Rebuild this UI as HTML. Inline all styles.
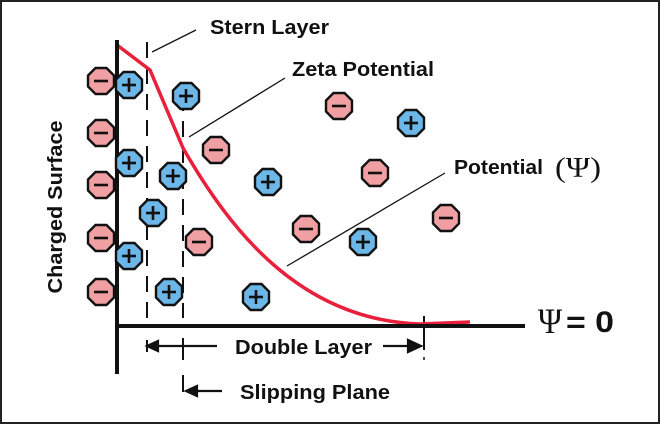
<!DOCTYPE html>
<html><head><style>body{margin:0;background:#fff}svg{display:block}text{font-family:"Liberation Sans",sans-serif;font-weight:bold;fill:#111}</style></head><body>
<svg width="660" height="424" viewBox="0 0 660 424">
<defs>
<polygon id="oct" points="-5.5,-13 5.5,-13 13,-5.5 13,5.5 5.5,13 -5.5,13 -13,5.5 -13,-5.5" stroke="#111" stroke-width="2.4"/>
<g id="neg"><use href="#oct" fill="#f0a0a3"/><line x1="-7" y1="0" x2="7" y2="0" stroke="#111" stroke-width="2.6"/></g>
<g id="pos"><use href="#oct" fill="#6cb6e8"/><line x1="-7" y1="0" x2="7" y2="0" stroke="#111" stroke-width="2.6"/><line x1="0" y1="-7" x2="0" y2="7" stroke="#111" stroke-width="2.6"/></g>
</defs>
<rect x="1" y="1" width="658" height="422" fill="#fff" stroke="#222" stroke-width="2"/>
<g stroke="#111" stroke-width="2" stroke-dasharray="16,10" fill="none">
<line x1="147" y1="42" x2="147" y2="318"/>
<line x1="183" y1="95" x2="183" y2="318"/>
</g>
<line x1="147" y1="340" x2="147" y2="352" stroke="#111" stroke-width="2"/>
<line x1="183" y1="338" x2="183" y2="360" stroke="#111" stroke-width="2"/>
<line x1="183" y1="375" x2="183" y2="392" stroke="#111" stroke-width="2"/>
<line x1="424" y1="316" x2="424" y2="350" stroke="#111" stroke-width="2"/>
<line x1="424" y1="357" x2="424" y2="360" stroke="#111" stroke-width="1.5"/>
<path d="M117,45 L150,70 L183,148 C230,230 300,320 420,324 L470,322" fill="none" stroke="#e8203c" stroke-width="3.5"/>
<line x1="117" y1="40" x2="117" y2="374" stroke="#111" stroke-width="4"/>
<line x1="117" y1="326" x2="525" y2="326" stroke="#111" stroke-width="4"/>
<g stroke="#111" stroke-width="1.3">
<line x1="152" y1="52" x2="196" y2="30"/>
<line x1="189" y1="137" x2="285" y2="78"/>
<line x1="287" y1="266" x2="445" y2="173"/>
</g>
<use href="#neg" x="101" y="81"/><use href="#neg" x="101" y="133"/><use href="#neg" x="101" y="185"/><use href="#neg" x="101" y="238"/><use href="#neg" x="101" y="292"/>
<use href="#neg" x="339" y="106"/><use href="#neg" x="216" y="150"/><use href="#neg" x="375" y="173"/><use href="#neg" x="306" y="229"/><use href="#neg" x="199" y="242"/><use href="#neg" x="446" y="218"/>
<use href="#pos" x="129" y="85"/><use href="#pos" x="186" y="96"/><use href="#pos" x="411" y="123"/><use href="#pos" x="129" y="163"/><use href="#pos" x="173" y="176"/><use href="#pos" x="268" y="182"/><use href="#pos" x="153" y="213"/><use href="#pos" x="363" y="242"/><use href="#pos" x="129" y="256"/><use href="#pos" x="169" y="292"/><use href="#pos" x="256" y="297"/>
<text x="210" y="34" font-size="20" textLength="119" lengthAdjust="spacingAndGlyphs">Stern Layer</text>
<text x="292" y="76" font-size="20" textLength="142" lengthAdjust="spacingAndGlyphs">Zeta Potential</text>
<text x="454" y="174" font-size="20" textLength="89" lengthAdjust="spacingAndGlyphs">Potential</text>
<text x="555" y="177" font-size="28" style="font-family:'Liberation Serif',serif;font-weight:normal" textLength="46" lengthAdjust="spacingAndGlyphs">(Ψ)</text>
<text x="538" y="333" font-size="36" style="font-family:'Liberation Serif',serif;font-weight:normal" textLength="24" lengthAdjust="spacingAndGlyphs">Ψ</text>
<text x="566" y="332" font-size="30" textLength="48" lengthAdjust="spacingAndGlyphs">= 0</text>
<text transform="translate(62,207) rotate(-90)" text-anchor="middle" font-size="20" textLength="173" lengthAdjust="spacingAndGlyphs">Charged Surface</text>
<text x="235" y="354" font-size="20" textLength="137" lengthAdjust="spacingAndGlyphs">Double Layer</text>
<text x="240" y="399" font-size="20" textLength="150" lengthAdjust="spacingAndGlyphs">Slipping Plane</text>
<g stroke="#111" stroke-width="2.2" fill="#111">
<line x1="155" y1="346" x2="217" y2="346"/><polygon points="147,346 158,341 158,351"/>
<line x1="383" y1="346" x2="410" y2="346"/><polygon points="421,346 408,340 408,352"/>
<line x1="193" y1="391" x2="222" y2="391"/><polygon points="186,391 197,386 197,396"/>
</g>
</svg>
</body></html>
